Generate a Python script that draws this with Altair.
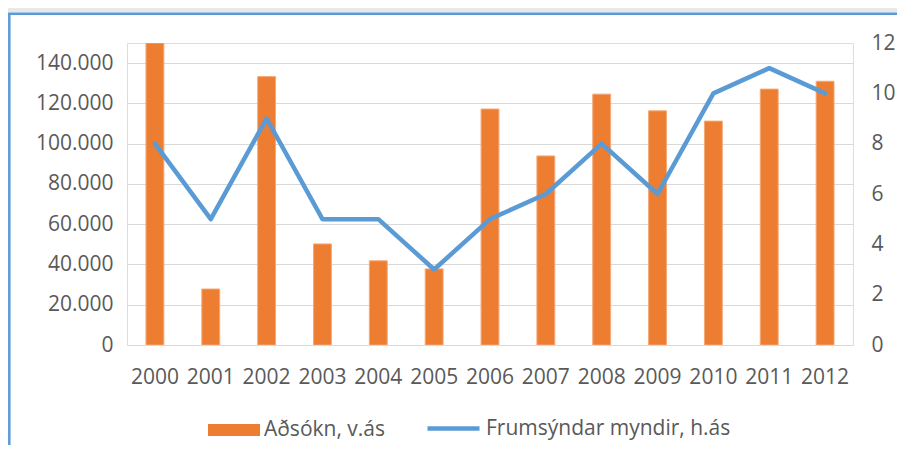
import altair as alt
import pandas as pd

years = ["2000", "2001", "2002", "2003", "2004", "2005", "2006",
         "2007", "2008", "2009", "2010", "2011", "2012"]
attendance = [150000, 27800, 133300, 50200, 41800, 37800, 117200,
              93900, 124600, 116300, 111200, 127100, 131000]
films = [8, 5, 9, 5, 5, 3, 5, 6, 8, 6, 10, 11, 10]

s_bar = "Aðsókn, v.ás"
s_line = "Frumsýndar myndir, h.ás"
left_ticks = [0, 20000, 40000, 60000, 80000, 100000, 120000, 140000]
right_ticks = [0, 2, 4, 6, 8, 10, 12]

df = pd.DataFrame({"year": years, "attendance": attendance, "films": films})

FONT = "Open Sans"
TXT = "#595959"
ORANGE = "#ed7d31"
BLUE = "#5b9bd5"

xenc = alt.X("year:N", scale=alt.Scale(paddingInner=0.68, paddingOuter=0.34),
             axis=alt.Axis(title=None, labelAngle=0, ticks=False, domainColor="#d9d9d9",
                           labelPadding=21, labelFont=FONT, labelFontSize=21,
                           labelColor=TXT, zindex=1))

leg_common = dict(title=None, orient="none", direction="horizontal",
                  labelFont=FONT, labelFontSize=21, labelColor=TXT, labelOffset=4,
                  labelLimit=400, symbolSize=2704, padding=0)

bars = alt.Chart(df).transform_calculate(series=f"'{s_bar}'").mark_bar(
    stroke="#f4a878", strokeWidth=1, clip=True
).encode(
    x=xenc,
    y=alt.Y("attendance:Q", scale=alt.Scale(domain=[0, 150000], nice=False),
            axis=alt.Axis(title=None, values=left_ticks, format=",d", grid=True,
                          gridColor="#d9d9d9", ticks=False, domain=False,
                          labelPadding=14, labelFont=FONT, labelFontSize=21,
                          labelColor=TXT)),
    fill=alt.Fill("series:N", scale=alt.Scale(domain=[s_bar], range=[ORANGE]),
                  legend=alt.Legend(legendX=81, legendY=361,
                                    symbolType="M-1,-0.23H1V0.23H-1Z",
                                    symbolStrokeWidth=0, **leg_common)),
)

line = alt.Chart(df).transform_calculate(series=f"'{s_line}'").mark_line(
    strokeWidth=4.5, strokeJoin="round", strokeCap="round"
).encode(
    x=xenc,
    y=alt.Y("films:Q", scale=alt.Scale(domain=[0, 12], nice=False),
            axis=alt.Axis(title=None, orient="right", values=right_ticks, grid=False,
                          ticks=False, domain=False, labelPadding=18, labelFont=FONT,
                          labelFontSize=21, labelColor=TXT)),
    stroke=alt.Stroke("series:N", scale=alt.Scale(domain=[s_line], range=[BLUE]),
                      legend=alt.Legend(legendX=298, legendY=357, symbolType="stroke",
                                        symbolStrokeWidth=4.5, **leg_common)),
)

deco = alt.Data(values=[{}])
gray_strip = alt.Chart(deco).mark_rect(fill="#e7e8ea").encode(
    x=alt.value(-119), x2=alt.value(900), y=alt.value(-36), y2=alt.value(-30.5))
frame = alt.Chart(deco).mark_rect(fill="transparent", stroke=BLUE, strokeWidth=2.5).encode(
    x=alt.value(-117.7), x2=alt.value(1000), y=alt.value(-29.3), y2=alt.value(700))

chart = alt.layer(gray_strip, frame, bars, line).resolve_scale(
    y="independent"
).properties(
    width=726, height=302,
    padding={"left": 119, "top": 35, "right": 44, "bottom": 100},
    autosize=alt.AutoSizeParams(type="none"),
    background="white",
).configure_view(
    stroke="#9dc3e6", strokeWidth=1.5
).configure(
    locale={"number": {"decimal": ",", "thousands": ".", "grouping": [3],
                       "currency": ["", " kr."]}}
)

chart.save("out.html", embed_options={"renderer": "svg", "actions": False})
